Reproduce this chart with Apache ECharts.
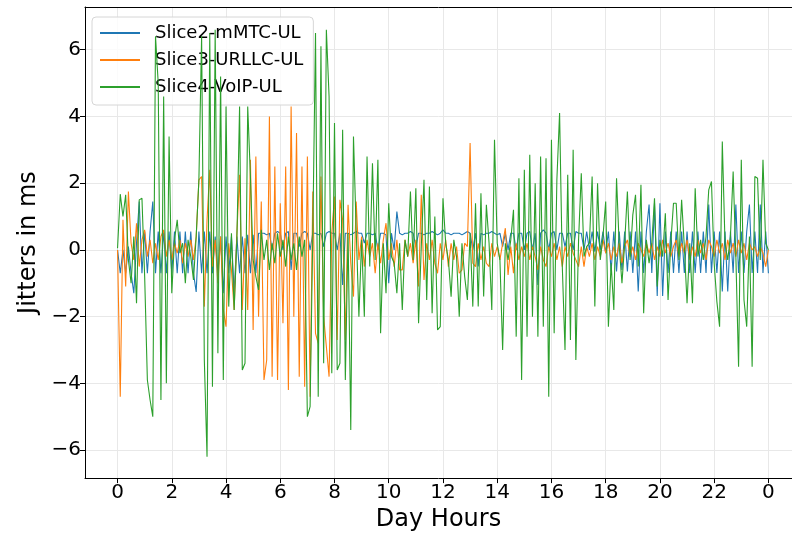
<!DOCTYPE html>
<html>
<head>
<meta charset="utf-8">
<script src="https://cdn.jsdelivr.net/npm/echarts@6/dist/echarts.min.js"></script>
<style>
html,body{margin:0;padding:0;background:#fff;}
#chart{width:792px;height:537px;}
</style>
</head>
<body>
<div id="chart"></div>
<script>
// Sampling: one reading every 0.1 hour from 0 h to 24 h (241 readings)
const sampleStepHours = 0.1;
const seriesNames = ['Slice2-mMTC-UL', 'Slice3-URLLC-UL', 'Slice4-VoIP-UL'];
const xTickValues = [0, 2, 4, 6, 8, 10, 12, 14, 16, 18, 20, 22, 24];
const yTickValues = [-6, -4, -2, 0, 2, 4, 6];

const slice2mMTC = [
  0.0,-0.7,0.0,-0.7,0.1,-0.7,-1.3,0.2,1.45,-0.7,
  0.55,-0.7,0.55,1.45,-0.7,0.55,-0.7,0.55,-0.7,0.55,
  -0.7,0.55,-0.7,0.55,-0.7,0.55,-0.7,0.55,-0.7,-1.26,
  0.55,-0.7,0.55,-0.7,0.55,-0.7,0.4,-0.7,0.4,-1.3,
  0.4,-0.7,0.4,-1.3,0.4,-0.7,0.4,-0.7,0.45,-0.7,
  0.45,-0.7,0.5,0.5,0.5,0.45,0.5,0.0,0.5,0.55,
  0.5,0.0,0.5,0.55,-0.6,0.5,0.5,0.1,0.5,0.55,
  0.5,0.0,0.5,0.5,0.45,0.5,0.1,0.5,0.55,0.5,
  0.5,0.0,0.5,-1.05,0.5,0.5,0.45,0.5,0.55,0.5,
  0.5,0.2,0.5,0.5,0.45,0.5,0.0,0.5,0.5,0.45,
  -1.0,0.5,0.0,1.15,0.5,0.45,0.5,0.5,0.55,0.5,
  0.1,0.5,0.5,0.45,0.5,0.5,0.55,0.5,0.45,0.5,
  0.6,0.5,0.5,0.45,0.5,0.5,0.5,0.45,0.5,0.55,
  0.5,0.0,0.5,-0.5,0.5,0.45,0.5,0.5,0.55,0.5,
  0.45,0.5,0.1,0.5,0.0,0.5,0.5,0.0,0.5,0.5,
  0.0,0.5,0.55,0.0,0.5,-1.05,0.5,0.6,0.5,0.0,
  0.5,0.55,0.0,0.5,0.5,0.1,0.5,0.5,0.0,0.55,
  0.5,0.5,0.0,0.55,0.0,0.55,-0.05,0.55,0.0,0.55,
  -0.1,0.55,-0.65,0.55,-0.65,0.55,-0.6,0.55,-0.65,0.55,
  -0.69,0.55,-1.25,0.55,-0.69,0.55,1.36,-0.69,1.4,-1.38,
  1.4,-1.38,0.55,-0.69,0.55,-0.69,0.55,-0.69,0.55,-0.69,
  0.55,-0.69,0.55,-0.69,0.55,-0.69,0.55,-0.69,1.36,-0.69,
  0.55,-0.69,0.55,-1.25,0.55,-1.25,0.55,-0.69,1.36,-0.69,
  0.55,-0.69,0.55,1.36,-0.69,0.55,-0.69,1.36,-0.69,0.55,
  -0.7
];

const slice3URLLC = [
  0.0,-4.4,0.9,-1.1,1.75,0.2,-0.3,0.8,-0.5,0.3,
  0.6,-0.2,0.3,-0.4,0.2,-0.3,0.4,0.6,-0.2,0.3,
  -0.3,0.2,-0.1,0.3,-0.4,0.2,-0.2,0.3,-0.3,0.4,
  2.1,2.2,-1.7,0.9,2.4,-0.5,0.3,-1.0,0.4,-1.8,
  -2.3,0.2,-0.6,-1.8,0.5,2.25,-1.8,0.35,-1.8,2.7,
  -2.4,2.8,-2.0,1.45,-3.9,-3.3,4.0,-3.8,2.5,-3.9,
  1.4,-2.2,2.5,-4.2,4.3,-2.0,3.5,-3.8,2.5,-4.1,
  2.8,-4.4,1.75,-2.5,-2.8,2.2,-2.0,-2.9,-3.8,0.5,
  1.6,-2.7,1.5,0.9,-2.7,1.35,-0.4,-1.4,1.45,-0.3,
  0.4,-0.5,0.3,-0.2,0.2,-0.7,0.2,-0.4,0.3,0.8,
  -0.3,0.2,-0.5,0.3,-0.6,-0.6,0.3,-0.2,0.2,-0.4,
  0.3,-1.1,1.65,-0.9,0.2,-0.3,0.3,-0.4,-0.7,0.2,
  -0.3,0.3,-0.5,0.2,-0.3,0.1,-0.7,-0.6,0.2,0.1,
  3.2,-0.4,-0.5,0.2,-0.3,0.1,-0.4,-0.5,0.2,-0.2,
  0.1,-0.3,0.2,0.65,-0.75,0.1,-0.7,0.2,-0.3,0.1,
  -0.2,0.2,-0.3,0.1,-0.2,-0.6,0.1,-0.3,-0.5,0.1,
  -0.2,0.2,-0.3,0.1,-0.5,0.1,-0.2,0.2,-0.1,-0.3,
  -0.5,0.1,-0.5,0.1,-0.2,0.2,-0.3,0.1,-0.2,0.3,
  -0.1,0.2,-0.3,0.1,-0.2,0.2,-0.4,0.1,0.3,-0.2,
  0.1,-0.3,0.2,0.0,-0.2,0.2,-0.1,0.2,-0.3,0.1,
  -0.2,0.3,-0.1,0.2,-0.2,0.1,0.3,-0.2,0.2,-0.1,
  0.3,-0.3,0.1,-0.2,0.3,-0.1,0.2,-0.3,0.3,0.1,
  -0.2,0.3,-0.1,0.2,-0.3,0.3,-0.1,0.2,-0.2,0.3,
  -0.1,0.2,-0.3,0.2,0.0,0.1,-0.2,0.1,-0.1,-0.5,
  0.0
];

const slice4VoIP = [
  0.05,1.67,1.0,1.65,-0.3,-1.0,0.4,-1.6,1.5,1.55,
  -0.8,-3.9,-4.5,-5.0,6.4,5.0,-4.5,4.6,-4.0,3.4,
  -1.3,0.3,0.9,-0.1,0.2,-1.0,0.3,-0.2,-0.9,0.4,
  2.1,6.4,-3.3,-6.2,6.5,-4.1,6.6,-3.1,5.2,-3.9,
  4.3,-1.7,0.5,-1.8,0.3,4.3,-3.6,-3.4,4.3,2.2,
  -0.3,-0.8,-1.2,0.6,-0.3,0.3,-0.6,0.2,-0.4,0.5,
  -0.2,0.3,-0.5,0.4,-0.3,0.2,-0.6,0.4,-0.2,0.3,
  -5.0,-4.7,0.5,6.5,-4.4,6.1,-3.4,6.6,4.6,-3.7,
  3.8,-3.6,-3.4,3.6,-3.9,0.5,-5.4,3.4,0.6,-2.0,
  0.3,-2.0,2.8,-0.5,2.6,-0.3,2.7,-2.5,0.2,-1.3,
  1.4,-0.2,-0.4,-1.3,0.2,-1.8,0.3,-0.2,1.75,-0.3,
  1.85,-2.2,0.1,2.1,-1.5,1.9,-1.9,1.0,-2.4,-2.3,
  1.55,0.2,-0.3,-1.4,0.3,-0.2,-2.0,0.2,-0.8,-1.5,
  0.5,-1.7,1.4,-1.7,1.7,-1.4,1.35,0.2,-1.8,3.3,
  0.2,-0.3,-3.0,0.2,-0.3,0.3,1.2,-2.6,2.15,-3.9,
  2.4,-2.6,2.85,-2.0,2.0,-2.6,2.8,-2.3,2.75,-4.4,
  3.3,-2.5,2.1,4.1,-0.5,-3.0,2.25,-2.7,3.0,-3.3,
  0.3,2.3,-0.2,0.1,0.2,2.2,-1.7,2.0,-0.3,0.4,
  1.45,-2.3,-0.4,-1.8,2.15,0.1,-1.0,0.2,1.75,-0.3,
  1.05,1.65,-0.5,1.95,-1.9,0.3,-0.4,0.2,1.55,-1.1,
  0.3,-0.2,1.1,-1.5,0.2,1.4,1.4,-0.3,1.5,0.1,
  -1.6,0.2,-1.6,1.85,-0.2,0.3,-0.3,0.4,1.8,2.05,
  -0.4,-1.55,-2.3,3.25,0.2,-0.3,0.4,2.35,-0.2,-3.5,
  2.7,-1.5,-2.3,0.4,-3.5,2.2,2.15,-0.3,2.7,0.2,
  0.0
];

const seriesValues = [slice2mMTC, slice3URLLC, slice4VoIP];
const seriesColors = ['#1f77b4', '#ff7f0e', '#2ca02c'];

function toPoints(values) {
  return values.map((v, i) => [+(i * sampleStepHours).toFixed(2), v]);
}

const FONT = 'DejaVu Sans';
const X_MIN = -1.2, X_MAX = 24.87;
const chart = echarts.init(document.getElementById('chart'), null, {renderer: 'canvas'});

const option = {
  animation: false,
  backgroundColor: '#ffffff',
  grid: {
    left: 85, right: 0, top: 7, bottom: 56,
    show: false, containLabel: false
  },
  legend: {
    left: 92, top: 17, orient: 'vertical',
    data: seriesNames,
    icon: 'rect', itemWidth: 40, itemHeight: 2, itemGap: 7,
    padding: [6, 10, 8, 8],
    backgroundColor: 'rgba(255,255,255,0.8)',
    borderColor: '#d6d6d6', borderWidth: 1, borderRadius: 4,
    textStyle: {fontFamily: FONT, fontSize: 18, color: '#000', lineHeight: 20, padding: [0, 0, 0, 10]}
  },
  xAxis: [{
    type: 'value', min: X_MIN, max: X_MAX, position: 'bottom',
    name: 'Day Hours', nameLocation: 'middle', nameGap: 27,
    nameTextStyle: {fontFamily: FONT, fontSize: 24, color: '#000'},
    axisLine: {show: true, onZero: false, lineStyle: {color: '#000', width: 1}},
    axisTick: {show: true, customValues: xTickValues, length: 5, lineStyle: {color: '#000'}},
    axisLabel: {
      customValues: xTickValues, margin: 5,
      fontFamily: FONT, fontSize: 20, color: '#000',
      formatter: v => (v === 24 ? '0' : String(v))
    },
    splitLine: {show: true, lineStyle: {color: '#e8e8e8', width: 1}}
  }, {
    type: 'value', min: X_MIN, max: X_MAX, position: 'top',
    axisLine: {show: true, onZero: false, lineStyle: {color: '#000', width: 1}},
    axisTick: {show: false}, axisLabel: {show: false}, splitLine: {show: false}
  }],
  yAxis: {
    type: 'value', min: -6.84, max: 7.28,
    name: 'Jitters in ms', nameLocation: 'middle', nameGap: 42, nameRotate: 90,
    nameTextStyle: {fontFamily: FONT, fontSize: 24, color: '#000'},
    axisLine: {show: true, onZero: false, lineStyle: {color: '#000', width: 1}},
    axisTick: {show: true, customValues: yTickValues, length: 5, lineStyle: {color: '#000'}},
    axisLabel: {
      customValues: yTickValues, margin: 4,
      fontFamily: FONT, fontSize: 20, color: '#000',
      formatter: v => (v < 0 ? '\u2212' + Math.abs(v) : String(v))
    },
    splitLine: {show: true, lineStyle: {color: '#e8e8e8', width: 1}}
  },
  series: seriesNames.map((name, k) => ({
    name: name,
    type: 'line',
    xAxisIndex: 0,
    data: toPoints(seriesValues[k]),
    showSymbol: false,
    symbol: 'none',
    color: seriesColors[k],
    lineStyle: {color: seriesColors[k], width: 1.1},
    itemStyle: {color: seriesColors[k]},
    z: 2 + k
  }))
};
chart.setOption(option);
</script>
</body>
</html>
